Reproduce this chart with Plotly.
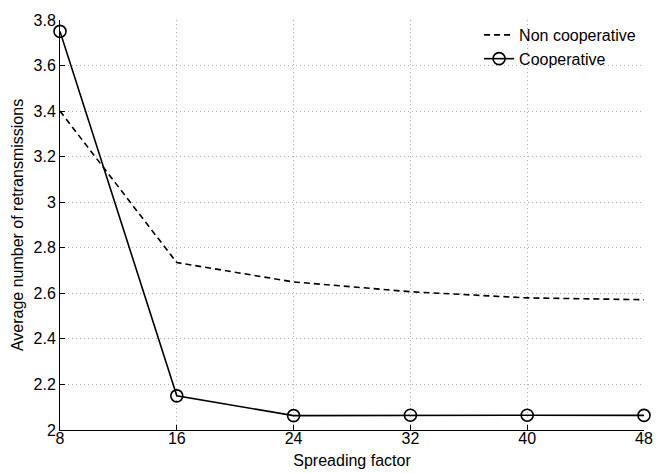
import plotly.graph_objects as go

spreading_factor = [8, 16, 24, 32, 40, 48]
non_cooperative = [3.40, 2.735, 2.65, 2.607, 2.58, 2.572]
cooperative = [3.75, 2.15, 2.063, 2.065, 2.065, 2.064]
x_ticks = [8, 16, 24, 32, 40, 48]
y_ticks = [2, 2.2, 2.4, 2.6, 2.8, 3, 3.2, 3.4, 3.6, 3.8]
y_tick_text = ["2", "2.2", "2.4", "2.6", "2.8", "3", "3.2", "3.4", "3.6", "3.8"]

fig = go.Figure()
fig.add_trace(go.Scatter(
    x=spreading_factor, y=non_cooperative, mode="lines", name="Non cooperative",
    line=dict(color="black", width=1.6, dash="6px,4px"),
))
fig.add_trace(go.Scatter(
    x=spreading_factor, y=cooperative, mode="lines+markers", name="Cooperative",
    line=dict(color="black", width=1.6),
    marker=dict(symbol="circle-open", size=12, color="black", line=dict(width=1.6)),
    cliponaxis=False,
))

font = "Liberation Sans, Arial, sans-serif"
fig.update_layout(
    width=654, height=465,
    margin=dict(l=52, r=18, t=10, b=43),
    plot_bgcolor="white", paper_bgcolor="white",
    font=dict(family=font, size=16, color="black"),
    showlegend=True,
    legend=dict(x=0.995, y=1.005, xanchor="right", yanchor="top",
                bgcolor="rgba(255,255,255,0)", borderwidth=0,
                font=dict(size=16), itemwidth=30, tracegroupgap=0),
)
fig.update_xaxes(
    range=[8, 48], tickvals=x_ticks, ticks="inside", ticklen=5, tickcolor="black",
    showline=True, linecolor="black", linewidth=1, mirror=False,
    showgrid=True, gridcolor="#b0b0b0", griddash="1px,3px", gridwidth=1,
    zeroline=False, automargin=False, ticklabelstandoff=-6,
    title=dict(text="Spreading factor", font=dict(size=16), standoff=8),
    tickfont=dict(size=16),
)
fig.update_yaxes(
    range=[2, 3.8], tickvals=y_ticks, ticktext=y_tick_text, ticks="inside", ticklen=5, tickcolor="black",
    showline=True, linecolor="black", linewidth=1, mirror=False,
    showgrid=True, gridcolor="#b0b0b0", griddash="1px,3px", gridwidth=1,
    zeroline=False, automargin=False,
    title=dict(text="Average number of retransmissions", font=dict(size=16), standoff=5),
    tickfont=dict(size=16),
)
fig.write_html("out.html")
